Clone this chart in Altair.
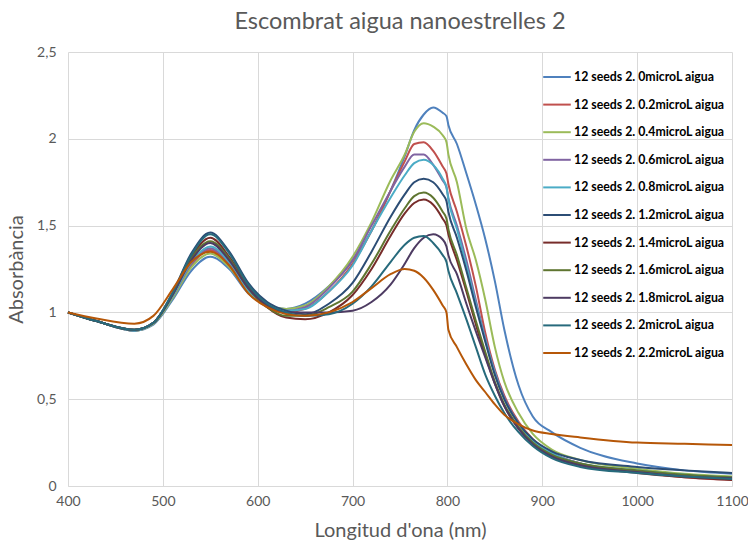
import altair as alt
import pandas as pd

wavelengths = [400, 430, 470, 490, 510, 530, 550, 570, 590, 610, 630, 650, 675, 700, 720, 740,
               755, 765, 775, 785, 795, 799, 801, 810, 820, 830, 840, 850, 860, 875, 890, 910,
               940, 1000, 1050, 1100]

series_names = [
    "12 seeds 2. 0microL aigua",
    "12 seeds 2. 0.2microL aigua",
    "12 seeds 2. 0.4microL aigua",
    "12 seeds 2. 0.6microL aigua",
    "12 seeds 2. 0.8microL aigua",
    "12 seeds 2. 1.2microL aigua",
    "12 seeds 2. 1.4microL aigua",
    "12 seeds 2. 1.6microL aigua",
    "12 seeds 2. 1.8microL aigua",
    "12 seeds 2. 2microL aigua",
    "12 seeds 2. 2.2microL aigua",
]

colors = ["#4F81BD", "#C0504D", "#9BBB59", "#8064A2", "#4BACC6", "#2C4D75",
          "#772C2A", "#5F7530", "#4D3B62", "#276A7C", "#B65708"]

s_0_0 = [1.0, 0.95, 0.895, 0.93, 1.07, 1.24, 1.32, 1.25, 1.11, 1.04, 1.02, 1.05, 1.15, 1.30, 1.47, 1.70,
         1.90, 2.05, 2.14, 2.18, 2.15, 2.13, 2.08, 1.97, 1.80, 1.62, 1.42, 1.18, 0.90, 0.58, 0.40, 0.31,
         0.22, 0.13, 0.09, 0.07]
s_0_2 = [1.0, 0.95, 0.895, 0.94, 1.09, 1.27, 1.36, 1.27, 1.12, 1.03, 1.00, 1.02, 1.12, 1.28, 1.47, 1.70,
         1.87, 1.97, 1.98, 1.93, 1.84, 1.80, 1.74, 1.58, 1.38, 1.15, 0.88, 0.67, 0.52, 0.37, 0.27, 0.19,
         0.13, 0.08, 0.05, 0.035]
s_0_4 = [1.0, 0.95, 0.895, 0.935, 1.08, 1.26, 1.34, 1.26, 1.12, 1.04, 1.02, 1.04, 1.15, 1.32, 1.52, 1.76,
         1.91, 2.04, 2.09, 2.07, 2.02, 1.98, 1.91, 1.75, 1.48, 1.30, 1.07, 0.80, 0.60, 0.42, 0.30, 0.21,
         0.15, 0.10, 0.07, 0.055]
s_0_6 = [1.0, 0.95, 0.895, 0.94, 1.09, 1.28, 1.37, 1.28, 1.13, 1.04, 1.01, 1.03, 1.14, 1.30, 1.50, 1.70,
         1.84, 1.91, 1.91, 1.85, 1.76, 1.72, 1.66, 1.50, 1.30, 1.07, 0.85, 0.66, 0.51, 0.36, 0.26, 0.19,
         0.13, 0.085, 0.06, 0.045]
s_0_8 = [1.0, 0.95, 0.895, 0.94, 1.09, 1.29, 1.38, 1.29, 1.13, 1.04, 1.01, 1.02, 1.12, 1.27, 1.47, 1.66,
         1.79, 1.86, 1.88, 1.85, 1.77, 1.72, 1.65, 1.48, 1.27, 1.05, 0.84, 0.65, 0.50, 0.36, 0.26, 0.19,
         0.13, 0.09, 0.065, 0.05]
s_1_2 = [1.0, 0.95, 0.90, 0.94, 1.11, 1.34, 1.46, 1.35, 1.17, 1.06, 1.01, 0.99, 1.05, 1.17, 1.35, 1.55,
         1.68, 1.75, 1.77, 1.75, 1.68, 1.64, 1.58, 1.43, 1.24, 1.03, 0.83, 0.64, 0.50, 0.36, 0.27, 0.20,
         0.15, 0.11, 0.09, 0.075]
s_1_4 = [1.0, 0.95, 0.90, 0.94, 1.10, 1.32, 1.43, 1.32, 1.15, 1.03, 0.97, 0.96, 1.00, 1.10, 1.25, 1.44,
         1.57, 1.63, 1.65, 1.62, 1.54, 1.50, 1.45, 1.30, 1.12, 0.93, 0.75, 0.59, 0.46, 0.33, 0.24, 0.17,
         0.12, 0.075, 0.05, 0.035]
s_1_6 = [1.0, 0.95, 0.90, 0.94, 1.10, 1.31, 1.41, 1.31, 1.14, 1.03, 0.98, 0.98, 1.03, 1.12, 1.28, 1.47,
         1.60, 1.67, 1.69, 1.66, 1.58, 1.54, 1.48, 1.33, 1.14, 0.95, 0.77, 0.60, 0.47, 0.34, 0.25, 0.18,
         0.13, 0.09, 0.065, 0.05]
s_1_8 = [1.0, 0.95, 0.90, 0.94, 1.10, 1.30, 1.40, 1.30, 1.14, 1.04, 1.00, 1.00, 1.00, 1.01, 1.06, 1.16,
         1.28, 1.37, 1.43, 1.45, 1.42, 1.38, 1.33, 1.22, 1.05, 0.89, 0.74, 0.59, 0.46, 0.33, 0.24, 0.17,
         0.12, 0.08, 0.055, 0.045]
s_2_0 = [1.0, 0.95, 0.90, 0.94, 1.11, 1.33, 1.45, 1.34, 1.16, 1.05, 1.00, 0.98, 0.99, 1.05, 1.15, 1.29,
         1.39, 1.43, 1.44, 1.40, 1.33, 1.29, 1.24, 1.11, 0.96, 0.80, 0.64, 0.52, 0.42, 0.31, 0.23, 0.16,
         0.11, 0.075, 0.055, 0.04]
s_2_2 = [1.0, 0.965, 0.935, 0.98, 1.13, 1.29, 1.35, 1.27, 1.11, 1.03, 0.99, 0.98, 1.00, 1.06, 1.14, 1.22,
         1.25, 1.24, 1.20, 1.13, 1.04, 1.00, 0.90, 0.80, 0.70, 0.61, 0.54, 0.47, 0.41, 0.355, 0.32, 0.30,
         0.28, 0.25, 0.243, 0.236]

all_series = [s_0_0, s_0_2, s_0_4, s_0_6, s_0_8, s_1_2, s_1_4, s_1_6, s_1_8, s_2_0, s_2_2]

rows = []
for i, (name, vals) in enumerate(zip(series_names, all_series)):
    for w, v in zip(wavelengths, vals):
        rows.append({"nm": w, "abs": v, "serie": name, "ord": i})
df = pd.DataFrame(rows)

FONT = "Lato"
GREY = "#595959"

chart = alt.Chart(df).mark_line(strokeWidth=2, interpolate="monotone").encode(
    x=alt.X("nm:Q",
            scale=alt.Scale(domain=[400, 1100], nice=False, zero=False),
            axis=alt.Axis(values=list(range(400, 1101, 100)), title="Longitud d'ona (nm)",
                          format="d", labelFlush=False,
                          grid=True, gridColor="#D9D9D9", domainColor="#D9D9D9", ticks=False,
                          labelColor=GREY, labelFont=FONT, labelFontSize=14, labelPadding=8,
                          titleColor=GREY, titleFont=FONT, titleFontSize=20, titleFontWeight="normal",
                          titlePadding=12)),
    y=alt.Y("abs:Q",
            scale=alt.Scale(domain=[0, 2.5], nice=False),
            axis=alt.Axis(values=[0, 0.5, 1, 1.5, 2, 2.5], title="Absorbància",
                          labelExpr="replace(toString(datum.value), '.', ',')",
                          labelFlush=False,
                          grid=True, gridColor="#D9D9D9", domain=False, ticks=False,
                          labelColor=GREY, labelFont=FONT, labelFontSize=14, labelPadding=12,
                          titleColor=GREY, titleFont=FONT, titleFontSize=20, titleFontWeight="normal",
                          titlePadding=10)),
    color=alt.Color("serie:N",
                    scale=alt.Scale(domain=series_names, range=colors),
                    legend=alt.Legend(title=None, orient="none", legendX=474, legendY=10,
                                      symbolType="stroke", symbolSize=760, symbolStrokeWidth=2,
                                      labelFont=FONT, labelFontSize=12.3, labelFontWeight="bold",
                                      labelColor="#000000", labelOffset=2, rowPadding=5.6,
                                      padding=0, labelLimit=300)),
    order=alt.Order("ord:Q"),
).properties(
    width=664,
    height=434,
    title=alt.TitleParams("Escombrat aigua nanoestrelles 2", font=FONT, fontSize=23.5,
                          fontWeight="normal", color=GREY, anchor="middle", offset=12),
    autosize=alt.AutoSizeParams(type="none"),
    padding={"left": 68, "top": 52, "right": 16, "bottom": 56},
).configure_view(stroke=None)

chart.save("out.html", embed_options={"renderer": "svg", "actions": False})
